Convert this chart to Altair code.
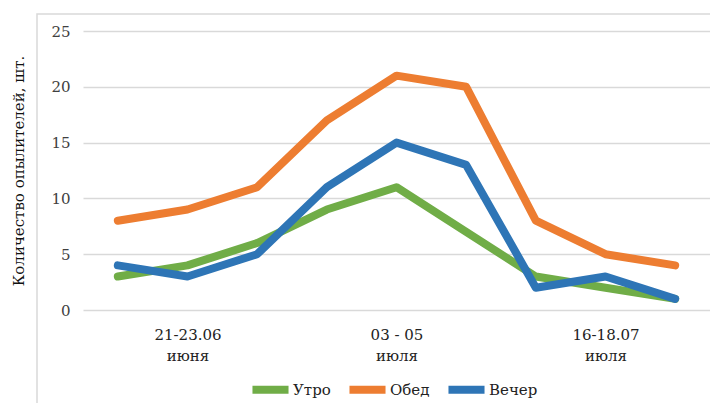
import altair as alt
import pandas as pd

positions = [1, 2, 3, 4, 5, 6, 7, 8, 9]
utro = [3, 4, 6, 9, 11, 7, 3, 2, 1]
obed = [8, 9, 11, 17, 21, 20, 8, 5, 4]
vecher = [4, 3, 5, 11, 15, 13, 2, 3, 1]
series_names = ["Утро", "Обед", "Вечер"]
series_colors = ["#70AD47", "#ED7D31", "#2E75B6"]
tick_positions = [2, 5, 8]
tick_labels = ["21-23.06|июня", "03 - 05|июля", "16-18.07|июля"]

rows = []
for name, vals in zip(series_names, [utro, obed, vecher]):
    for p, v in zip(positions, vals):
        rows.append({"pos": p, "value": v, "series": name})
df = pd.DataFrame(rows)

label_map = "{" + ",".join(f"'{p}': '{l}'" for p, l in zip(tick_positions, tick_labels)) + "}"

FONT = "DejaVu Serif"
W, H = 627, 279

color = alt.Color(
    "series:N",
    scale=alt.Scale(domain=series_names, range=series_colors),
    legend=alt.Legend(
        title=None,
        orient="none",
        direction="horizontal",
        legendX=165,
        legendY=336,
        symbolType="stroke",
        symbolSize=1300,
        symbolStrokeWidth=8,
        labelFont=FONT,
        labelFontSize=15,
        labelColor="#222222",
        columnPadding=2,
        symbolOffset=0,
        labelOffset=0,
    ),
)

x = alt.X(
    "pos:Q",
    scale=alt.Scale(domain=[0.5, 9.5], nice=False, zero=False),
    axis=alt.Axis(
        values=tick_positions,
        labelExpr=f"split({label_map}[''+datum.value], '|')",
        grid=False,
        domain=False,
        ticks=False,
        title=None,
        labelFont=FONT,
        labelFontSize=15,
        labelColor="#222222",
        labelPadding=17,
        labelLineHeight=21,
    ),
)
y = alt.Y(
    "value:Q",
    scale=alt.Scale(domain=[0, 25], nice=False),
    axis=alt.Axis(
        values=[0, 5, 10, 15, 20, 25],
        title="Количество опылителей, шт.",
        titleFont=FONT,
        titleFontSize=15,
        titleFontWeight="normal",
        titleColor="#111111",
        titlePadding=24,
        labelFont=FONT,
        labelFontSize=15,
        labelColor="#404040",
        labelPadding=13,
        domain=False,
        ticks=False,
        gridColor="#d9d9d9",
        gridWidth=1.5,
    ),
)

frame = alt.Chart(alt.Data(values=[{"a": 1}])).mark_rect(
    fillOpacity=0, stroke="#d9d9d9", strokeWidth=1.5
).encode(
    x=alt.value(-46), x2=alt.value(W + 20), y=alt.value(-17), y2=alt.value(H + 120)
)

layers = [frame]
for name in series_names:
    layers.append(
        alt.Chart(df)
        .transform_filter(alt.datum.series == name)
        .mark_line(strokeWidth=8, strokeCap="round", strokeJoin="round")
        .encode(x=x, y=y, color=color)
    )

chart = (
    alt.layer(*layers)
    .properties(
        width=W,
        height=H,
        autosize=alt.AutoSizeParams(type="none"),
        padding={"left": 83, "top": 31, "right": 0, "bottom": 93},
        background="white",
    )
    .configure_view(stroke=None)
)

chart.save("out.html", embed_options={"renderer": "svg", "actions": False})
